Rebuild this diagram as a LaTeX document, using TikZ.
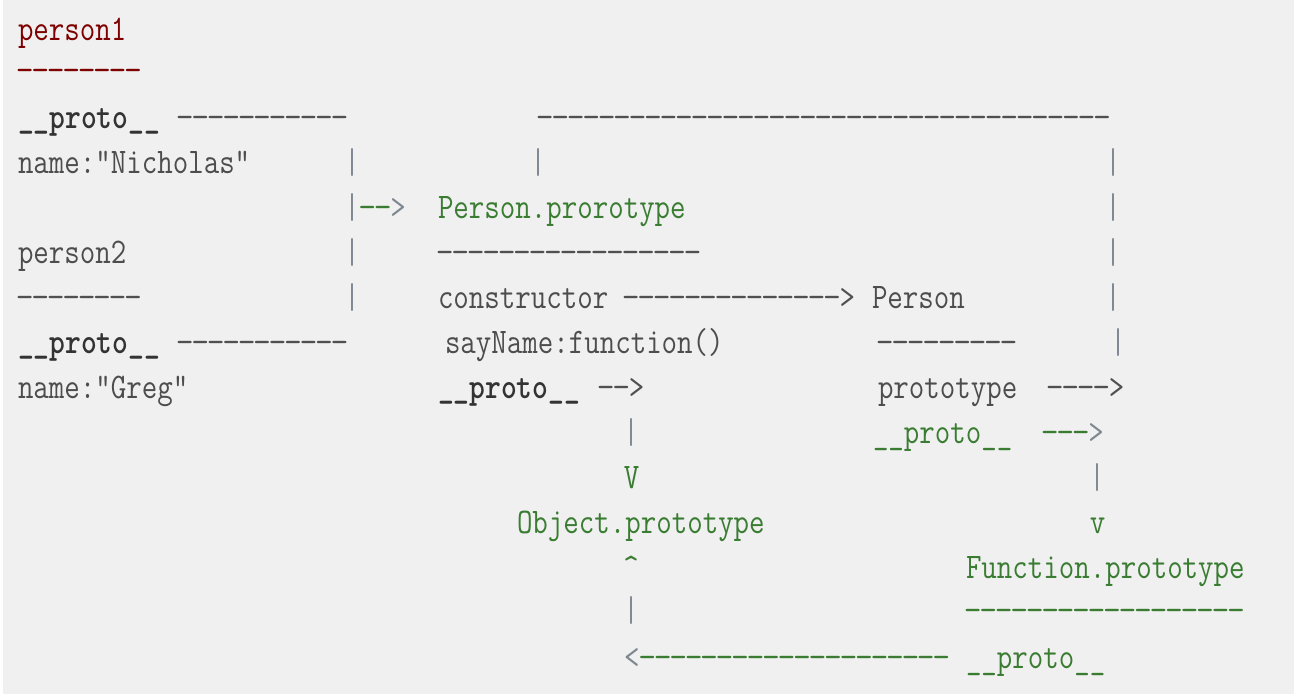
\documentclass[tikz,border=0pt]{standalone}
\usepackage{graphicx}
\definecolor{bg}{HTML}{F0F0F0}
\definecolor{txtgray}{HTML}{4D4D4D}
\definecolor{dashgray}{HTML}{505050}
\definecolor{bargray}{HTML}{7F8790}
\definecolor{codegreen}{HTML}{3A7D32}
\definecolor{codered}{HTML}{7F0000}
\definecolor{boldgray}{HTML}{333333}
\newcommand\Sx[1]{\scalebox{0.835}[1]{#1}}
\newcommand\Dashes[1]{\foreach\k in {1,...,#1}{\makebox[0.515em][c]{\scalebox{1.15}[1]{-}}}}
\tikzset{
  txt/.style={anchor=base west, inner sep=0pt, outer sep=0pt,
    font=\fontsize{36}{36}\selectfont\ttfamily, text=txtgray},
  boldtxt/.style={txt, font=\fontsize{36}{36}\selectfont\ttfamily\bfseries, text=boldgray},
  grntxt/.style={txt, text=codegreen},
  dashtxt/.style={txt, text=dashgray},
  onechar/.style={txt, anchor=base},
  bar/.style={onechar, text=bargray},
}
\begin{document}
\begin{tikzpicture}[x=1pt,y=-1pt]
\useasboundingbox (0,0) rectangle (1294,694);
\fill[bg] (0,0) rectangle (1294,694);
\fill[white] (0,0) rectangle (3,694);

% person1
\node[txt,text=codered] (p1) at (18,40) {\Sx{person1}};
\node[txt,text=codered] (p1rule) at (17,81) {\Sx{\Dashes{8}}};
\node[boldtxt] (p1proto) at (18,128) {\Sx{\_\_proto\_\_}};
\node[dashtxt] (p1link) at (177,128) {\Sx{\Dashes{11}}};
\node[dashtxt] (toploop) at (537,128) {\Sx{\Dashes{37}}};
\node[txt] (p1name) at (18,173) {\Sx{name:"Nicholas"}};
\node[bar] (barA1) at (352,173) {\Sx{|}};
\node[bar] (barB1) at (538,173) {\Sx{|}};
\node[bar] (barC1) at (1113,173) {\Sx{|}};

% join to Person.prototype
\node[bar] (barA2) at (352,218) {\Sx{|}};
\node[txt,text=bargray] (arrPP) at (359.5,218) {\Sx{{\color{codegreen}\Dashes{2}}>}};
\node[grntxt] (pproto) at (438,218) {\Sx{Person.prorotype}};
\node[bar] (barC2) at (1113,218) {\Sx{|}};

% person2
\node[txt] (p2) at (18,263) {\Sx{person2}};
\node[bar] (barA3) at (352,263) {\Sx{|}};
\node[dashtxt] (pprule) at (437,263) {\Sx{\Dashes{17}}};
\node[bar] (barC3) at (1113,263) {\Sx{|}};

\node[dashtxt] (p2rule) at (17,308) {\Sx{\Dashes{8}}};
\node[bar] (barA4) at (352,308) {\Sx{|}};
\node[txt] (ctor) at (438,308) {\Sx{constructor}};
\node[dashtxt] (ctorarr) at (623,308) {\Sx{\Dashes{14}>}};
\node[txt] (person) at (872,308) {\Sx{Person}};
\node[bar] (barC4) at (1113,308) {\Sx{|}};

\node[boldtxt] (p2proto) at (18,353) {\Sx{\_\_proto\_\_}};
\node[dashtxt] (p2link) at (177,353) {\Sx{\Dashes{11}}};
\node[txt] (sayname) at (445,353) {\Sx{sayName:function()}};
\node[dashtxt] (personrule) at (877,353) {\Sx{\Dashes{9}}};
\node[bar] (barC5) at (1118,353) {\Sx{|}};

\node[txt] (p2name) at (18,398) {\Sx{name:"Greg"}};
\node[boldtxt] (ppproto) at (438,398) {\Sx{\_\_proto\_\_}};
\node[dashtxt] (pparr) at (598,398) {\Sx{\Dashes{2}>}};
\node[txt] (prototype) at (878,398) {\Sx{prototype}};
\node[dashtxt] (protoarr) at (1047,398) {\Sx{\Dashes{4}>}};

% lower part
\node[bar] (barD1) at (631,443) {\Sx{|}};
\node[grntxt] (fproto) at (873,443) {\Sx{\_\_proto\_\_}};
\node[txt,text=bargray] (fprotoarr) at (1042,443) {\Sx{{\color{codegreen}\Dashes{3}}>}};

\node[onechar,text=codegreen] (Vdown) at (631.5,488) {\Sx{V}};
\node[bar] (barE1) at (1097,488) {\Sx{|}};

\node[grntxt] (objproto) at (517,533) {\Sx{Object.prototype}};
\node[onechar,text=codegreen] (vdown) at (1097.5,533) {\Sx{v}};

\node[onechar,text=codegreen] (caret) at (631,578) {\Sx{\textasciicircum}};
\node[grntxt] (funcproto) at (966,578) {\Sx{Function.prototype}};

\node[bar] (barD2) at (631,621) {\Sx{|}};
\node[grntxt] (funcrule) at (965,621) {\Sx{\Dashes{18}}};

\node[txt,text=bargray] (backarr) at (624,668) {\Sx{<{\color{codegreen}\Dashes{20}}}};
\node[grntxt] (funcproto2) at (966,668) {\Sx{\_\_proto\_\_}};
\end{tikzpicture}
\end{document}
